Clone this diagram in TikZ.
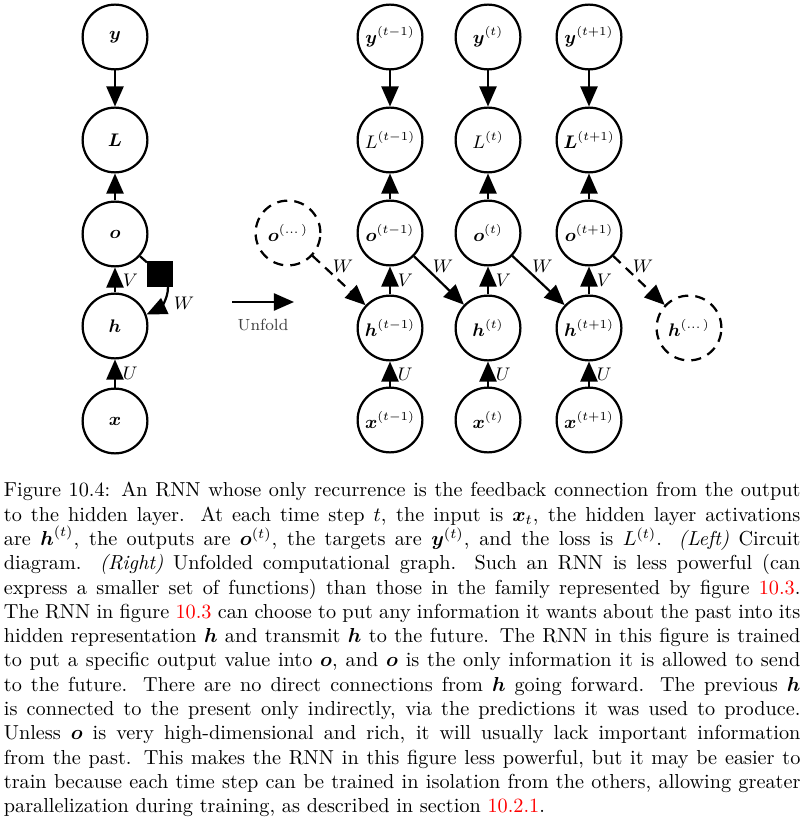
\documentclass[tikz,border=0pt]{standalone}
\usepackage{amsmath,amssymb,mathtools}
\usepackage{tikz}
\usetikzlibrary{arrows.meta,positioning}

\begin{document}
\begin{tikzpicture}[x=0.494pt,y=-0.494pt,
  var/.style={circle,draw,line width=1.1pt,minimum size=32pt,inner sep=0pt,font=\small},
  ghost/.style={var,dash pattern=on 5pt off 3.5pt},
  flow/.style={line width=1.1pt,-{Triangle[length=10pt,width=8.5pt]}},
  wlab/.style={font=\small}]
\useasboundingbox (0,0) rectangle (806,826);

% circuit diagram
\node[var] (y) at (115,37) {$\boldsymbol{y}$};
\node[var] (L) at (115,140) {$\boldsymbol{L}$};
\node[var] (o) at (115,234) {$\boldsymbol{o}$};
\node[var] (h) at (115,326) {$\boldsymbol{h}$};
\node[var] (x) at (115,421) {$\boldsymbol{x}$};
\node[fill,minimum size=12.5pt,inner sep=0pt] (d) at (160,274) {};
\draw[flow] (y)--(L);
\draw[flow] (o)--(L);
\draw[flow] (h)--(o) node[midway,right,wlab] {$V$};
\draw[flow] (x)--(h) node[midway,right,wlab] {$U$};
\draw[line width=1.1pt] (o)--(d);
\draw[flow] ([xshift=-2.5pt]d.south east) to[out=-90,in=25] node[right=2pt,wlab] {$W$} (h.20);

% unfold
\coordinate (u0) at (232,302);
\coordinate (u1) at (294,302);
\draw[flow] (u0)--(u1) node[midway,below=4.5pt,font=\footnotesize,text=black!75] {Unfold};

% unfolded graph
\foreach \col/\xc/\s/\Lv in {a/390/t-1/L,b/488/t/L,c/589/t+1/\boldsymbol{L}}{
  \node[var] (y\col) at (\xc,37) {$\boldsymbol{y}^{(\s)}$};
  \node[var] (L\col) at (\xc,140) {$\Lv^{(\s)}$};
  \node[var] (o\col) at (\xc,233) {$\boldsymbol{o}^{(\s)}$};
  \node[var] (h\col) at (\xc,328) {$\boldsymbol{h}^{(\s)}$};
  \node[var] (x\col) at (\xc,420) {$\boldsymbol{x}^{(\s)}$};
  \draw[flow] (y\col)--(L\col);
  \draw[flow] (o\col)--(L\col);
  \draw[flow] (h\col)--(o\col) node[midway,right,wlab] {$V$};
  \draw[flow] (x\col)--(h\col) node[midway,right,wlab] {$U$};
}
\node[ghost] (op) at (288,233) {$\boldsymbol{o}^{(\dots)}$};
\node[ghost] (hn) at (689,328) {$\boldsymbol{h}^{(\dots)}$};
\draw[flow,dash pattern=on 5pt off 3.5pt] (op)--(ha) node[midway,above,xshift=2pt,wlab] {$W$};
\draw[flow] (oa)--(hb) node[midway,above,xshift=2pt,wlab] {$W$};
\draw[flow] (ob)--(hc) node[midway,above,xshift=2pt,wlab] {$W$};
\draw[flow,dash pattern=on 5pt off 3.5pt] (oc)--(hn) node[midway,above,xshift=2pt,wlab] {$W$};

% caption
\node[anchor=north west,text width=393.5pt,inner sep=0pt,align=justify] (cap) at (3.5,482) {\noindent
Figure 10.4: An RNN whose only recurrence is the feedback connection from the output\linebreak
to the hidden layer. At each time step $t$, the input is $\boldsymbol{x}_t$, the hidden layer activations\linebreak
are $\boldsymbol{h}^{(t)}$, the outputs are $\boldsymbol{o}^{(t)}$, the targets are $\boldsymbol{y}^{(t)}$, and the loss is $L^{(t)}$. \emph{(Left)} Circuit\linebreak
diagram. \emph{(Right)} Unfolded computational graph. Such an RNN is less powerful (can\linebreak
express a smaller set of functions) than those in the family represented by figure \textcolor{red}{10.3}.\linebreak
The RNN in figure \textcolor{red}{10.3} can choose to put any information it wants about the past into its\linebreak
hidden representation $\boldsymbol{h}$ and transmit $\boldsymbol{h}$ to the future. The RNN in this figure is trained\linebreak
to put a specific output value into $\boldsymbol{o}$, and $\boldsymbol{o}$ is the only information it is allowed to send\linebreak
to the future. There are no direct connections from $\boldsymbol{h}$ going forward. The previous $\boldsymbol{h}$\linebreak
is connected to the present only indirectly, via the predictions it was used to produce.\linebreak
Unless $\boldsymbol{o}$ is very high-dimensional and rich, it will usually lack important information\linebreak
from the past. This makes the RNN in this figure less powerful, but it may be easier to\linebreak
train because each time step can be trained in isolation from the others, allowing greater\linebreak
parallelization during training, as described in section \textcolor{red}{10.2.1}.};
\end{tikzpicture}
\end{document}
